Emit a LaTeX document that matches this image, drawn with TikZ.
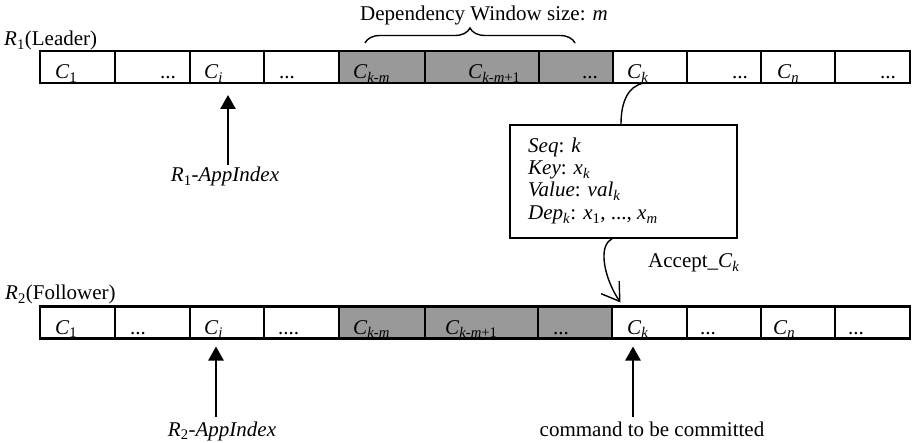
\documentclass[tikz,border=0pt]{standalone}
\usepackage{fontspec}
\setmainfont{Liberation Serif}
\usetikzlibrary{arrows.meta,decorations.pathreplacing}
\definecolor{cellgray}{RGB}{153,153,153}
\newcommand{\sbs}[1]{\textsubscript{#1}}
\newcommand{\Cs}[1]{\textit{C}\textsubscript{#1}}
\begin{document}
\begin{tikzpicture}[x=1pt,y=-1pt,
  cell/.style={draw, line width=2.5pt, minimum height=32pt, inner sep=0pt, outer sep=0pt, anchor=west},
  shaded/.style={cell, fill=cellgray},
  lbl/.style={inner sep=0pt, font=\fontsize{21}{25}\selectfont},
  ctext/.style={lbl, anchor=base west},
  uparrow/.style={line width=2.5pt, -{Triangle[length=14pt,width=15pt]}},
  thinline/.style={line width=1.4pt}
]
\useasboundingbox (0,0) rectangle (915,443);

% ---------- top row (Leader) ----------
\node[cell, minimum width=75pt] (t1) at (40,67) {};
\node[cell, minimum width=75pt] (t2) at (115,67) {};
\node[cell, minimum width=74pt] (t3) at (190,67) {};
\node[cell, minimum width=75pt] (t4) at (264,67) {};
\node[shaded, minimum width=86pt] (t5) at (339,67) {};
\node[shaded, minimum width=114pt] (t6) at (425,67) {};
\node[shaded, minimum width=74pt] (t7) at (539,67) {};
\node[cell, minimum width=74pt] (t8) at (613,67) {};
\node[cell, minimum width=74pt] (t9) at (687,67) {};
\node[cell, minimum width=74pt] (t10) at (761,67) {};
\node[cell, minimum width=75pt] (t11) at (835,67) {};

\node[ctext] (tl1) at (55,79) {\Cs{1}};
\node[ctext] (tl2) at (160,79) {...};
\node[ctext] (tl3) at (204,79) {\Cs{\textit{i}}};
\node[ctext] (tl4) at (279,79) {...};
\node[ctext] (tl5) at (353,79) {\Cs{\textit{k-m}}};
\node[ctext] (tl6) at (468,79) {\Cs{\textit{k-m}+1}};
\node[ctext] (tl7) at (582,79) {...};
\node[ctext] (tl8) at (627,79) {\Cs{\textit{k}}};
\node[ctext] (tl9) at (732,79) {...};
\node[ctext] (tl10) at (777,79) {\Cs{\textit{n}}};
\node[ctext] (tl11) at (880,79) {...};

% ---------- bottom row (Follower) ----------
\node[cell, minimum width=75pt] (b1) at (40,322.5) {};
\node[cell, minimum width=75pt] (b2) at (115,322.5) {};
\node[cell, minimum width=74pt] (b3) at (190,322.5) {};
\node[cell, minimum width=75pt] (b4) at (264,322.5) {};
\node[shaded, minimum width=86pt] (b5) at (339,322.5) {};
\node[shaded, minimum width=113pt] (b6) at (425,322.5) {};
\node[shaded, minimum width=74pt] (b7) at (538,322.5) {};
\node[cell, minimum width=75pt] (b8) at (612,322.5) {};
\node[cell, minimum width=74pt] (b9) at (687,322.5) {};
\node[cell, minimum width=74pt] (b10) at (761,322.5) {};
\node[cell, minimum width=75pt] (b11) at (835,322.5) {};

\node[ctext] (bl1) at (55,334.5) {\Cs{1}};
\node[ctext] (bl2) at (130,334.5) {...};
\node[ctext] (bl3) at (204,334.5) {\Cs{\textit{j}}};
\node[ctext] (bl4) at (278,334.5) {....};
\node[ctext] (bl5) at (353,334.5) {\Cs{\textit{k-m}}};
\node[ctext] (bl6) at (445,334.5) {\Cs{\textit{k-m}+1}};
\node[ctext] (bl7) at (553,334.5) {...};
\node[ctext] (bl8) at (627,334.5) {\Cs{\textit{k}}};
\node[ctext] (bl9) at (700,334.5) {...};
\node[ctext] (bl10) at (773,334.5) {\Cs{\textit{n}}};
\node[ctext] (bl11) at (848,334.5) {...};

% ---------- labels ----------
\node[ctext] (r1) at (4,46) {\textit{R}\sbs{1}(Leader)};
\node[ctext] (r2) at (5,300) {\textit{R}\sbs{2}(Follower)};
\node[ctext] (dep) at (360,21) {Dependency Window size: \textit{m}};
\coordinate (bra) at (365,43);
\coordinate (brb) at (575,43);
\draw[thinline, decorate, decoration={brace, amplitude=15pt}] (bra) -- (brb);

% ---------- info box ----------
\node[draw, line width=2pt, minimum width=227pt, minimum height=113pt, inner sep=0pt] (info) at (623.5,181.5) {};
\node[ctext] (s1) at (528,153) {\textit{Seq}: \textit{k}};
\node[ctext] (s2) at (528,175) {\textit{Key}: \textit{x}\sbs{\textit{k}}};
\node[ctext] (s3) at (528,197) {\textit{Value}: \textit{val}\sbs{\textit{k}}};
\node[ctext] (s4) at (528,220) {\textit{Dep}\sbs{\textit{k}}: \textit{x}\sbs{1}, ..., \textit{x}\sbs{\textit{m}}};

\draw[thinline] ([xshift=-6pt]t8.south) .. controls (628,86) and (621,102) .. ([xshift=-2.5pt]info.north);
\draw[thinline, -{Straight Barb[length=17pt,width=22pt]}] ([xshift=-11.5pt]info.south) .. controls (597,246) and (605,280) .. ([xshift=-29pt,yshift=4pt]b8.north);
\node[ctext] (acc) at (648,268) {Accept\_\Cs{\textit{k}}};

% ---------- pointer arrows ----------
\coordinate (a1) at (228,165);
\draw[uparrow, shorten >=12pt] (a1) -- (a1 |- t3.south);
\node[lbl, anchor=base] (r1idx) at (225,182) {\textit{R}\sbs{1}\textit{-AppIndex}};

\coordinate (a2) at (216,417);
\draw[uparrow, shorten >=8pt] (a2) -- (a2 |- b3.south);
\node[lbl, anchor=base] (r2idx) at (222,436) {\textit{R}\sbs{2}\textit{-AppIndex}};

\coordinate (a3) at (633,417);
\draw[uparrow, shorten >=8pt] (a3) -- (a3 |- b8.south);
\node[lbl, anchor=base] (cmd) at (652,436) {command to be committed};
\end{tikzpicture}
\end{document}
